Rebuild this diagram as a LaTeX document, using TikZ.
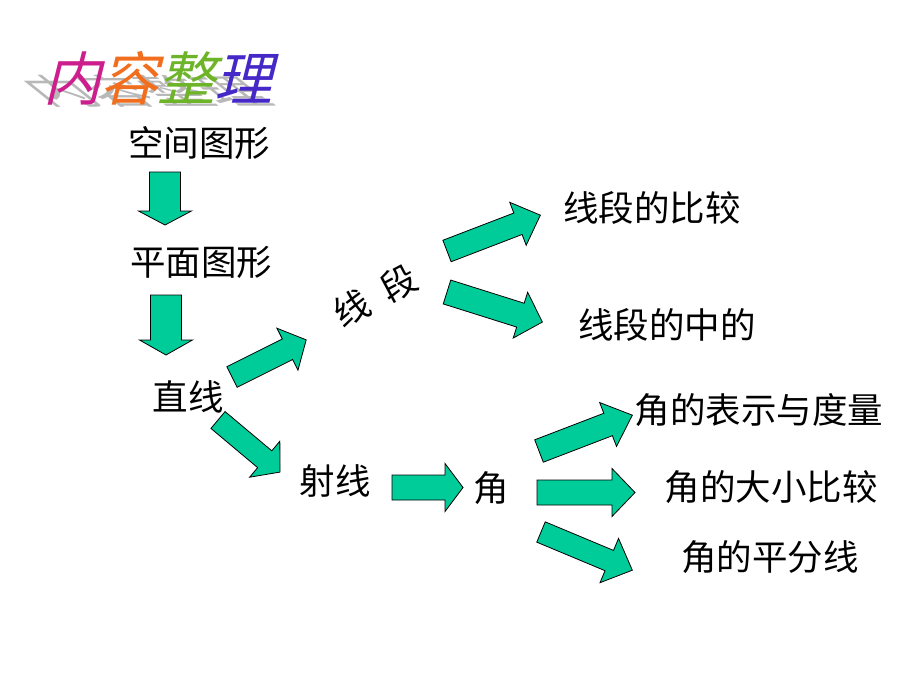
\documentclass[tikz,border=0pt]{standalone}
\usepackage{fontspec}
\newfontfamily\cjk{Noto Sans CJK SC}
\usetikzlibrary{calc}
\definecolor{arrowgreen}{RGB}{0,204,153}
\definecolor{tA}{RGB}{204,30,140}
\definecolor{tB}{RGB}{240,110,30}
\definecolor{tC}{RGB}{110,180,40}
\definecolor{tD}{RGB}{70,40,200}
\tikzset{
  lbl/.style={font=\cjk\fontsize{35.5}{40}\selectfont, inner sep=0pt, text=black},
  barrowstyle/.style={fill=arrowgreen, draw=black, line width=0.8pt, line join=miter},
  pics/barrow/.style n args={5}{code={
    \draw[barrowstyle, rotate=#1]
      (0,-#3/2) -- ({#2-#5},-#3/2) -- ({#2-#5},-#4/2) -- (#2,0)
      -- ({#2-#5},#4/2) -- ({#2-#5},#3/2) -- (0,#3/2) -- cycle;
  }},
  ttl/.style={font=\cjk\fontsize{58}{62}\selectfont, inner sep=0pt, anchor=base, xslant=0.25},
  shd/.style={font=\cjk\fontsize{58}{62}\selectfont, inner sep=0pt, anchor=base, text=black!28, yscale=0.6, xslant=-0.75},
}
\begin{document}
\begin{tikzpicture}[x=1pt,y=-1pt]
\useasboundingbox (0,0) rectangle (920,690);
% title shadow
\node[shd] (s1) at (76,105) {内};
\node[shd] (s2) at (133,105) {容};
\node[shd] (s3) at (190,105) {整};
\node[shd] (s4) at (247,105) {理};
% title
\node[ttl, text=tA] (t1) at (72,101) {内};
\node[ttl, text=tB] (t2) at (129,101) {容};
\node[ttl, text=tC] (t3) at (186,101) {整};
\node[ttl, text=tD] (t4) at (243,101) {理};
% labels
\node[lbl] (kj) at (199,143) {空间图形};
\node[lbl] (pm) at (201,262) {平面图形};
\node[lbl] (zx) at (188,397) {直线};
\node[lbl, rotate=28] (xd) at (375,296) {线\hspace{18pt}段};
\node[lbl] (sx) at (335,481) {射线};
\node[lbl] (jiao) at (491,488) {角};
\node[lbl] (xdbj) at (652,208) {线段的比较};
\node[lbl] (xdzd) at (667,325) {线段的中的};
\node[lbl] (jbs) at (759,410) {角的表示与度量};
\node[lbl] (jdx) at (771,487) {角的大小比较};
\node[lbl] (jpf) at (770,557) {角的平分线};
% block arrows
\pic at (165,172) {barrow={-90}{53}{31}{53}{14}};
\pic at (166,295) {barrow={-90}{60}{31}{53}{15}};
\pic at (232,377) {barrow={26.6}{83}{23}{47}{21}};
\pic at (218,420) {barrow={-40}{81}{22}{47}{20}};
\pic at (447,251) {barrow={21}{100}{23}{46}{24}};
\pic at (447,292) {barrow={-17.5}{100}{25}{48}{23}};
\pic at (392,487.5) {barrow={0}{71}{25}{48}{18}};
\pic at (539,451) {barrow={21}{100}{24}{47}{26}};
\pic at (537,492.5) {barrow={0}{98}{25}{48}{23}};
\pic at (541,532) {barrow={-22.7}{99}{22}{48}{25}};
\end{tikzpicture}
\end{document}
